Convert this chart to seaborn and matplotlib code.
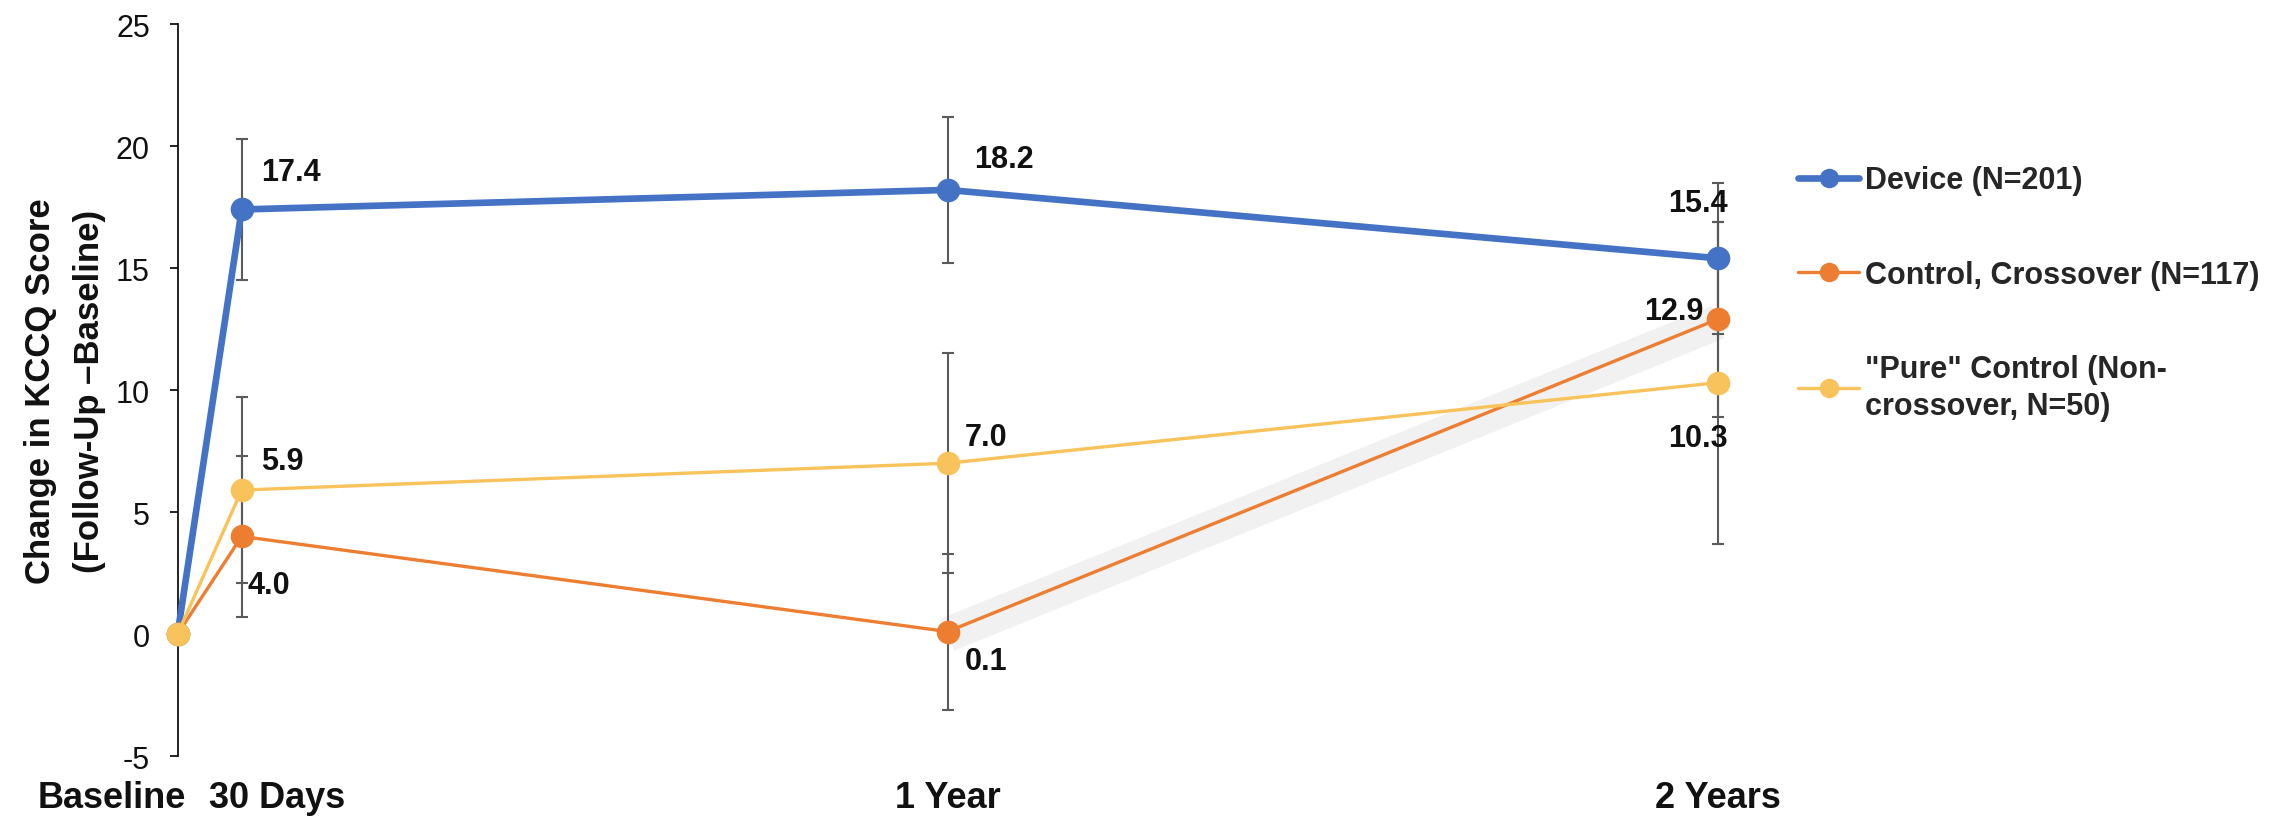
import numpy as np
import pandas as pd
import matplotlib
matplotlib.use("Agg")
import matplotlib.pyplot as plt
import seaborn as sns
from matplotlib.lines import Line2D
from matplotlib.transforms import offset_copy

# Data: change in KCCQ score, months since baseline
months = [0, 1, 12, 24]
tick_labels = ["Baseline", "30 Days", "1 Year", "2 Years"]
groups = ["Device (N=201)", "Control, Crossover (N=117)",
          '"Pure" Control (Non-\ncrossover, N=50)']
device = [0.0, 17.4, 18.2, 15.4]
crossover = [0.0, 4.0, 0.1, 12.9]
pure = [0.0, 5.9, 7.0, 10.3]
device_err = [0.0, 2.9, 3.0, 3.1]
crossover_err = [0.0, 3.3, 3.2, 4.0]
pure_err = [0.0, 3.8, 4.5, 6.6]

colors = ["#4472C4", "#ED7D31", "#F8C35A"]
widths = [4.8, 2.4, 2.4]

df = pd.DataFrame({
    "month": months * 3,
    "change": device + crossover + pure,
    "group": np.repeat(groups, len(months)),
})
errs = {groups[0]: device_err, groups[1]: crossover_err, groups[2]: pure_err}

sns.set_style("white")
plt.rcParams["font.family"] = ["Liberation Sans", "DejaVu Sans"]
plt.rcParams["axes.unicode_minus"] = False

fig = plt.figure(figsize=(22.82, 8.2), dpi=100)
ax = fig.add_axes([0.0047, 0.0768, 0.7705, 0.8927])

# light grey band behind the crossover rise (1 year -> 2 years)
band_tr = offset_copy(ax.transData, fig=fig, x=0, y=-3, units="dots")
ax.plot(months[2:], crossover[2:], color="#F1F1F1", lw=25,
        solid_capstyle="butt", transform=band_tr, zorder=0.5)

for i, g in enumerate(groups):
    sub = df[df["group"] == g]
    ax.errorbar(sub["month"][1:], sub["change"][1:], yerr=errs[g][1:],
                fmt="none", ecolor="#5A5A5A", elinewidth=1.5,
                capsize=4.5, capthick=1.5, zorder=2)
    sns.lineplot(data=sub, x="month", y="change", color=colors[i],
                 linewidth=widths[i], marker="o", markersize=17,
                 markeredgewidth=0, ax=ax, legend=False, zorder=3 + i)

# value labels (offsets in points)
label_style = {
    groups[0]: [None, (14, 27, "left"), (19, 22, "left"), (-14, 40, "center")],
    groups[1]: [None, (4, -35, "left"), (12, -21, "left"), (-10, 6, "right")],
    groups[2]: [None, (14, 21, "left"), (12, 19, "left"), (-14, -40, "center")],
}
for g in groups:
    sub = df[df["group"] == g].reset_index(drop=True)
    for j, st in enumerate(label_style[g]):
        if st is None:
            continue
        ax.annotate(f"{sub['change'][j]:.1f}", (sub["month"][j], sub["change"][j]),
                    xytext=(st[0], st[1]), textcoords="offset points",
                    ha=st[2], va="center", fontsize=22, fontweight="bold",
                    color="#111111", zorder=10)

ax.set_xlim(-2.6, 24.8)
ax.set_ylim(-5, 25)
ax.set_yticks(range(-5, 26, 5))
ax.set_xticks([-1.02, 1.55, 12, 24])
ax.set_xticklabels(tick_labels, fontsize=26, fontweight="bold")
ax.tick_params(axis="x", length=0, pad=17, colors="#111111")
ax.tick_params(axis="y", direction="out", length=6, width=1.3, pad=14,
               labelsize=22, colors="#111111", left=True)
for s in ["top", "right", "bottom"]:
    ax.spines[s].set_visible(False)
ax.spines["left"].set_position(("data", 0))
ax.spines["left"].set_color("#111111")
ax.spines["left"].set_linewidth(1.3)
ax.set_xlabel("")
ax.set_ylabel("Change in KCCQ Score\n(Follow-Up \u2013Baseline)",
              fontsize=25, fontweight="bold", labelpad=7, color="#111111",
              linespacing=1.6)

handles = [Line2D([0], [0], color=c, lw=w, marker="o", markersize=14,
                  markeredgewidth=0) for c, w in zip(colors, widths)]
leg = fig.legend(handles, groups, loc="upper left", bbox_to_anchor=(0.788, 0.797),
                 frameon=False, prop={"weight": "bold", "size": 22},
                 handlelength=2.0, handletextpad=0.2, labelspacing=2.1,
                 borderpad=0, borderaxespad=0)
for t in leg.get_texts():
    t.set_linespacing(1.3)

fig.savefig("out.png", dpi=100)
